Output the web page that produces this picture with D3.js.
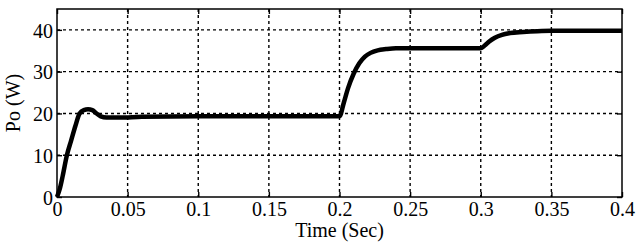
<!DOCTYPE html>
<html>
<head>
<meta charset="utf-8">
<script src="https://cdn.jsdelivr.net/npm/d3@7"></script>
<style>
  body { margin: 0; background: #fff; }
  text { font-family: "Liberation Serif", "Times New Roman", serif; fill: #000; }
</style>
</head>
<body>
<div id="chart"></div>
<script>
// values
var timeSec = [0, 0.002, 0.004, 0.007, 0.010, 0.013, 0.016, 0.019, 0.022, 0.025, 0.028, 0.031, 0.035, 0.045,
               0.06, 0.1, 0.15, 0.2, 0.203, 0.206, 0.21, 0.214, 0.218, 0.222, 0.227, 0.233, 0.24, 0.26,
               0.3, 0.303, 0.306, 0.31, 0.315, 0.32, 0.33, 0.34, 0.35, 0.4];
var powerW  = [0, 2, 5, 10, 13.5, 17, 20, 20.8, 21, 20.8, 20, 19.3, 19, 19,
               19.2, 19.3, 19.3, 19.3, 22.5, 26, 29.5, 32, 33.6, 34.5, 35.1, 35.4, 35.6, 35.6,
               35.6, 36.3, 37.2, 38.1, 38.8, 39.2, 39.5, 39.7, 39.8, 39.8];
var xTicks = [0, 0.05, 0.1, 0.15, 0.2, 0.25, 0.3, 0.35, 0.4];
var yTicks = [0, 10, 20, 30, 40];

var margin = {top: 9, right: 18, bottom: 48, left: 57},
    width = 640 - margin.left - margin.right,
    height = 245 - margin.top - margin.bottom;

var svg = d3.select("#chart").append("svg")
    .attr("width", 640)
    .attr("height", 245)
  .append("g")
    .attr("transform", "translate(" + margin.left + "," + margin.top + ")");

var x = d3.scaleLinear().domain([0, 0.4]).range([0, width]);
var y = d3.scaleLinear().domain([0, 45]).range([height, 0]);

// dashed grid
svg.append("g").selectAll("line")
    .data(xTicks.slice(1, -1))
    .enter().append("line")
    .attr("x1", d => x(d)).attr("x2", d => x(d))
    .attr("y1", 0).attr("y2", height)
    .attr("stroke", "#000").attr("stroke-width", 1.4)
    .attr("stroke-dasharray", "3,3");

svg.append("g").selectAll("line")
    .data(yTicks.slice(1))
    .enter().append("line")
    .attr("x1", 0).attr("x2", width)
    .attr("y1", d => y(d)).attr("y2", d => y(d))
    .attr("stroke", "#000").attr("stroke-width", 1.4)
    .attr("stroke-dasharray", "3,3");

// axes with inward ticks on all four sides
var fmt = d3.format("~g");
var xAxis = svg.append("g")
    .attr("transform", "translate(0," + height + ")")
    .call(d3.axisBottom(x).tickValues(xTicks).tickSizeInner(-5).tickSizeOuter(0).tickPadding(5).tickFormat(fmt));
var xTop = svg.append("g")
    .call(d3.axisTop(x).tickValues(xTicks).tickSizeInner(-5).tickSizeOuter(0).tickFormat(""));
var yAxis = svg.append("g")
    .call(d3.axisLeft(y).tickValues(yTicks).tickSizeInner(-5).tickSizeOuter(0).tickPadding(4).tickFormat(fmt));
var yRight = svg.append("g")
    .attr("transform", "translate(" + width + ",0)")
    .call(d3.axisRight(y).tickValues(yTicks).tickSizeInner(-5).tickSizeOuter(0).tickFormat(""));

[xAxis, xTop, yAxis, yRight].forEach(function(a) {
  a.attr("font-family", null).attr("font-size", null);
  a.select(".domain").remove();
  a.selectAll(".tick line").attr("stroke", "#000").attr("stroke-width", 1.4);
  a.selectAll("text").style("font-size", "20px");
});
yAxis.selectAll("text").attr("dy", "0.36em");

// box
svg.append("rect")
    .attr("x", 0).attr("y", 0)
    .attr("width", width).attr("height", height)
    .attr("fill", "none").attr("stroke", "#000").attr("stroke-width", 1.5);

// the power curve
var pts = timeSec.map((t, i) => [t, powerW[i]]);
var line = d3.line()
    .x(d => x(d[0]))
    .y(d => y(d[1]))
    .curve(d3.curveMonotoneX);

svg.append("path")
    .datum(pts)
    .attr("d", line)
    .attr("fill", "none")
    .attr("stroke", "#000")
    .attr("stroke-width", 4.5)
    .attr("stroke-linejoin", "round");

// axis labels
svg.append("text")
    .attr("x", width / 2)
    .attr("y", height + 40)
    .attr("text-anchor", "middle")
    .style("font-size", "20px")
    .text("Time (Sec)");

svg.append("text")
    .attr("transform", "translate(" + (-37) + "," + (height / 2) + ") rotate(-90)")
    .attr("text-anchor", "middle")
    .style("font-size", "20px")
    .text("Po (W)");
</script>
</body>
</html>
